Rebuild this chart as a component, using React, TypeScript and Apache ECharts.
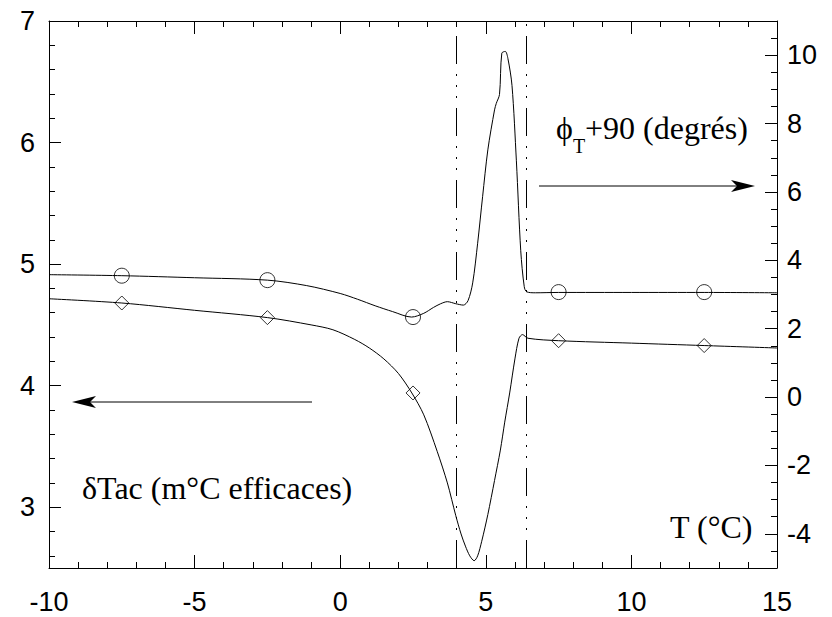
import React, { useEffect, useRef } from "react";
import * as echarts from "echarts";

// φT+90 curve (right axis, degrés)
const phiT = [-10, -7.5, -5, -2.5, -1.15, 0, 0.6, 1.2, 1.8, 2.45, 2.87, 3.2, 3.45, 3.68, 3.97, 4.23, 4.39, 4.55, 4.72, 4.89, 5.07, 5.3, 5.36, 5.47, 5.55, 5.67, 5.76, 5.9, 6.05, 6.2, 6.32, 6.4, 6.7, 7.5, 10, 12.5, 15];
const phiV = [3.58, 3.55, 3.49, 3.42, 3.26, 3.03, 2.86, 2.67, 2.5, 2.34, 2.45, 2.62, 2.73, 2.79, 2.73, 2.69, 2.82, 3.34, 4.5, 5.86, 7.23, 8.4, 8.59, 8.85, 10.06, 10.11, 9.9, 9.11, 6.91, 4.28, 3.23, 3.08, 3.05, 3.06, 3.06, 3.06, 3.05];

// δTac curve (left axis, m°C efficaces)
const dTT = [-10, -7.5, -5, -2.5, -1, -0.25, 0.5, 1.0, 1.5, 2.0, 2.46, 2.87, 3.33, 3.68, 3.97, 4.15, 4.3, 4.45, 4.6, 4.72, 4.86, 5.07, 5.3, 5.5, 5.65, 5.82, 6.0, 6.14, 6.26, 6.45, 7.5, 10, 12.5, 15];
const dTV = [4.715, 4.68, 4.62, 4.56, 4.5, 4.46, 4.38, 4.31, 4.22, 4.1, 3.94, 3.76, 3.46, 3.2, 2.93, 2.78, 2.68, 2.6, 2.56, 2.6, 2.72, 2.94, 3.22, 3.47, 3.7, 3.94, 4.22, 4.39, 4.42, 4.39, 4.37, 4.35, 4.33, 4.31];

// markers
const markT = [-7.5, -2.5, 2.5, 7.5, 12.5];
const circleV = [3.55, 3.42, 2.34, 3.07, 3.07];
const diamondV = [4.68, 4.56, 3.94, 4.37, 4.33];

// transition lines
const transitionT = [4.0, 6.4];

// ticks
const leftMajor = [3, 4, 5, 6, 7];
const leftMinor = [2.6, 2.8, 3.2, 3.4, 3.6, 3.8, 4.2, 4.4, 4.6, 4.8, 5.2, 5.4, 5.6, 5.8, 6.2, 6.4, 6.6, 6.8];
const rightMajor = [-4, -2, 0, 2, 4, 6, 8, 10];
const rightMinor = [-4.5, -3.5, -3, -2.5, -1.5, -1, -0.5, 0.5, 1, 1.5, 2.5, 3, 3.5, 4.5, 5, 5.5, 6.5, 7, 7.5, 8.5, 9, 9.5, 10.5];
const xMajor = [-10, -5, 0, 5, 10, 15];
const xMinor = [-9, -8, -7, -6, -4, -3, -2, -1, 1, 2, 3, 4, 6, 7, 8, 9, 11, 12, 13, 14];

const BLACK = "#000";
const TICK_FONT = "Liberation Sans";
const SERIF = "Liberation Serif";

function zip(a: number[], b: number[]) {
  return a.map((v, i) => [v, b[i]]);
}

export default function App() {
  const ref = useRef<HTMLDivElement>(null);
  useEffect(() => {
    if (!ref.current) return;
    const chart = echarts.init(ref.current, undefined, { renderer: "svg" });
    const line = (show: boolean) => ({ show, onZero: false, lineStyle: { color: BLACK, width: 1 } });
    const label = { color: BLACK, fontSize: 27, fontFamily: TICK_FONT };
    const xBase = (pos: "bottom" | "top", ticks: number[], len: number, showLabel: boolean, showLine: boolean) => ({
      type: "value",
      position: pos,
      min: -10,
      max: 15,
      axisLine: line(showLine),
      axisTick: { show: true, inside: true, length: len, customValues: ticks, lineStyle: { color: BLACK } },
      axisLabel: { show: showLabel, ...label, margin: 20, customValues: ticks },
      splitLine: { show: false },
    });
    const yBase = (pos: "left" | "right", min: number, max: number, ticks: number[], len: number, showLabel: boolean, showLine: boolean) => ({
      type: "value",
      position: pos,
      min,
      max,
      axisLine: line(showLine),
      axisTick: { show: true, inside: true, length: len, customValues: ticks, lineStyle: { color: BLACK } },
      axisLabel: { show: showLabel, ...label, margin: pos === "left" ? 14 : 10, customValues: ticks },
      splitLine: { show: false },
    });
    const lineStyle = { color: BLACK, width: 1 };
    const textStyle = (text: string, size: number) => ({
      text,
      font: `${size}px "${SERIF}"`,
      fill: BLACK,
      align: "left",
      verticalAlign: "middle",
      textAlign: "left",
      textVerticalAlign: "middle",
    });
    chart.setOption({
      animation: false,
      backgroundColor: "#fff",
      grid: { left: 49, right: 55, top: 21, bottom: 49 },
      xAxis: [
        xBase("bottom", xMajor, 13, true, true),
        xBase("bottom", xMinor, 6, false, false),
        xBase("top", xMajor, 13, false, true),
        xBase("top", xMinor, 6, false, false),
      ],
      yAxis: [
        yBase("left", 2.5, 7, leftMajor, 12, true, true),
        yBase("left", 2.5, 7, leftMinor, 6, false, false),
        yBase("right", -5, 11, rightMajor, 12, true, true),
        yBase("right", -5, 11, rightMinor, 6, false, false),
      ],
      series: [
        {
          type: "line",
          yAxisIndex: 2,
          data: zip(phiT, phiV),
          showSymbol: false,
          smooth: 0.3,
          lineStyle,
          markLine: {
            silent: true,
            symbol: ["none", "none"],
            label: { show: false },
            lineStyle: { color: BLACK, width: 1, type: [28, 10, 2, 9, 2, 9, 2, 10] },
            data: transitionT.map((t) => ({ xAxis: t })),
          },
        },
        {
          type: "line",
          yAxisIndex: 0,
          data: zip(dTT, dTV),
          showSymbol: false,
          smooth: 0.3,
          lineStyle,
        },
        {
          type: "scatter",
          yAxisIndex: 2,
          data: zip(markT, circleV),
          symbol: "circle",
          symbolSize: 15,
          itemStyle: { color: "#fff", borderColor: BLACK, borderWidth: 1 },
        },
        {
          type: "scatter",
          yAxisIndex: 0,
          data: zip(markT, diamondV),
          symbol: "diamond",
          symbolSize: 14,
          itemStyle: { color: "#fff", borderColor: BLACK, borderWidth: 1 },
        },
      ],
      graphic: [
        { type: "text", x: 556, y: 128, style: textStyle("ϕ", 32) },
        { type: "text", x: 573, y: 146, style: textStyle("T", 20) },
        { type: "text", x: 585, y: 128, style: textStyle("+90 (degrés)", 32) },
        { type: "line", shape: { x1: 539, y1: 186, x2: 740, y2: 186 }, style: { stroke: BLACK, lineWidth: 1 } },
        { type: "polygon", shape: { points: [[755, 186], [731, 180], [737, 186], [731, 192]] }, style: { fill: BLACK } },
        { type: "line", shape: { x1: 88, y1: 402, x2: 312, y2: 402 }, style: { stroke: BLACK, lineWidth: 1 } },
        { type: "polygon", shape: { points: [[72, 402], [96, 396], [90, 402], [96, 408]] }, style: { fill: BLACK } },
        { type: "text", x: 82, y: 488, style: textStyle("δTac (m°C efficaces)", 32) },
        { type: "text", x: 670, y: 527, style: textStyle("T (°C)", 32) },
      ],
    });
    return () => chart.dispose();
  }, []);
  return <div ref={ref} style={{ width: 832, height: 617, position: "absolute", left: 0, top: 0 }} />;
}
